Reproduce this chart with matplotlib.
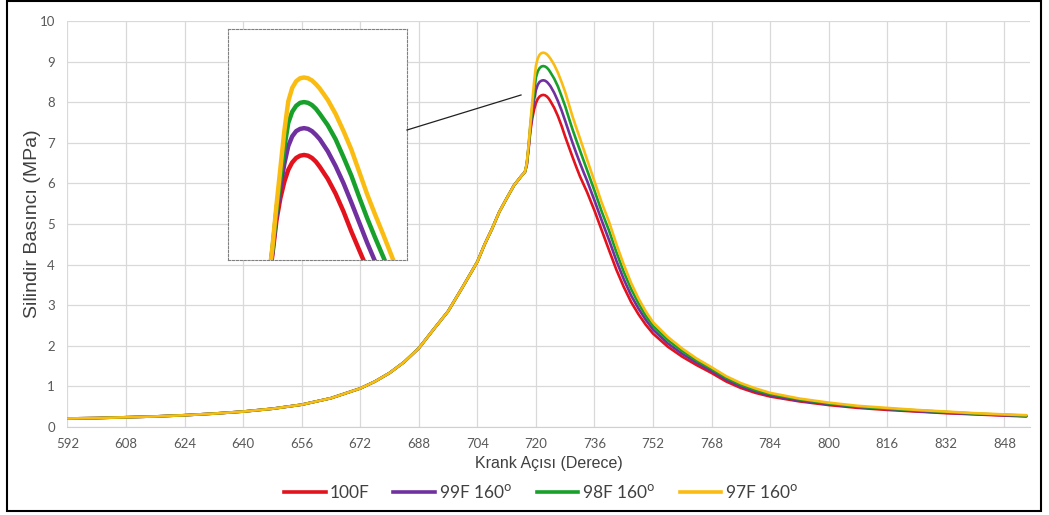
import numpy as np
import matplotlib
matplotlib.use("Agg")
import matplotlib.pyplot as plt
from matplotlib.patches import Rectangle
from matplotlib.lines import Line2D

# crank angle (deg)
angle = [592, 600, 608, 616, 624, 632, 640, 648, 656, 664, 672, 676, 680, 684,
         688, 692, 696, 700, 704, 706, 708, 710, 712, 714, 716, 717,
         717.5, 718, 718.5, 719, 719.5, 720, 720.5, 721, 721.5, 722, 722.5, 723,
         723.5, 724, 725, 726, 727, 728, 729, 730, 731, 732, 733, 734,
         736, 738, 740, 742, 744, 746, 748, 750, 752, 756, 760, 764, 768, 772,
         776, 780, 784, 792, 800, 808, 816, 824, 832, 840, 848, 854]

# compression part, identical for all fuels (592..717)
p_common = [0.21, 0.22, 0.24, 0.26, 0.29, 0.33, 0.38, 0.45, 0.55, 0.71, 0.95, 1.12,
            1.33, 1.60, 1.94, 2.40, 2.85, 3.45, 4.07, 4.50, 4.88, 5.30, 5.63, 5.95,
            6.18, 6.28]

# combustion / expansion part (717.5..854), MPa
p_100F = [6.45, 6.85, 7.30, 7.60, 7.82, 7.98, 8.08, 8.14, 8.17, 8.18, 8.17, 8.14,
          8.09, 8.02, 7.86, 7.66, 7.42, 7.15, 6.90, 6.65, 6.41, 6.18, 5.98, 5.78,
          5.33, 4.84, 4.35, 3.87, 3.45, 3.08, 2.78, 2.52, 2.30, 1.98, 1.73, 1.52,
          1.33, 1.12, 0.96, 0.84, 0.75, 0.63, 0.54, 0.47, 0.42, 0.38, 0.34, 0.31,
          0.28, 0.26]
p_99F = [6.47, 6.89, 7.37, 7.74, 8.06, 8.30, 8.43, 8.50, 8.53, 8.54, 8.53, 8.50,
         8.45, 8.39, 8.23, 8.03, 7.80, 7.54, 7.27, 7.00, 6.75, 6.51, 6.28, 6.06,
         5.58, 5.08, 4.60, 4.09, 3.64, 3.24, 2.92, 2.64, 2.40, 2.06, 1.80, 1.58,
         1.38, 1.17, 1.00, 0.88, 0.78, 0.65, 0.56, 0.49, 0.44, 0.39, 0.35, 0.32,
         0.29, 0.27]
p_98F = [6.48, 6.92, 7.44, 7.87, 8.28, 8.61, 8.76, 8.84, 8.88, 8.89, 8.88, 8.85,
         8.80, 8.73, 8.58, 8.39, 8.15, 7.90, 7.61, 7.33, 7.07, 6.82, 6.57, 6.32,
         5.82, 5.30, 4.83, 4.30, 3.82, 3.40, 3.05, 2.74, 2.49, 2.14, 1.87, 1.63,
         1.43, 1.21, 1.04, 0.91, 0.81, 0.68, 0.58, 0.50, 0.45, 0.41, 0.37, 0.33,
         0.30, 0.28]
p_97F = [6.50, 6.95, 7.50, 8.00, 8.50, 8.90, 9.08, 9.17, 9.21, 9.22, 9.21, 9.18,
         9.13, 9.07, 8.92, 8.73, 8.50, 8.25, 7.95, 7.65, 7.38, 7.12, 6.85, 6.58,
         6.05, 5.52, 5.05, 4.50, 4.00, 3.55, 3.17, 2.85, 2.58, 2.22, 1.93, 1.68,
         1.47, 1.25, 1.08, 0.95, 0.84, 0.70, 0.60, 0.52, 0.47, 0.42, 0.38, 0.34,
         0.31, 0.29]

labels = ['100F', '99F 160$^{\\mathrm{o}}$', '98F 160$^{\\mathrm{o}}$', '97F 160$^{\\mathrm{o}}$']
colors = ['#e3121c', '#7030a0', '#17a02a', '#fbbc12']
series = [p_100F, p_99F, p_98F, p_97F]

xticks = np.arange(592, 849, 16)
yticks = np.arange(0, 11, 1)

#--------------------------------------------------
if __name__ == "__main__":

    fig = plt.figure(figsize=(10.49, 5.15), dpi=100)
    ax = fig.add_axes([0.0643, 0.1709, 0.9176, 0.7883])

    for s, c in zip(series, colors):
        ax.plot(angle, p_common + s, color=c, lw=1.9, solid_capstyle='round',
                solid_joinstyle='round')

    ax.set_xlim(592, 855)
    ax.set_ylim(0, 10)
    ax.set_xticks(xticks)
    ax.set_yticks(yticks)
    ax.grid(True, color='#d9d9d9', lw=0.9)
    ax.set_axisbelow(True)
    for k in ['top', 'right', 'left']:
        ax.spines[k].set_visible(False)
    ax.spines['bottom'].set_color('#d0d0d0')
    ax.tick_params(length=0, labelsize=9.5, labelcolor='#595959')
    ax.tick_params(axis='x', pad=8)
    ax.tick_params(axis='y', pad=9)
    for t in ax.get_xticklabels() + ax.get_yticklabels():
        t.set_family('Lato')

    ax.set_xlabel('Krank Açısı (Derece)', fontsize=11.5, family='Liberation Sans',
                  color='#404040', labelpad=4)
    ax.set_ylabel('Silindir Basıncı (MPa)', fontsize=14, family='Liberation Sans',
                  color='#404040', labelpad=-1)

    # zoomed view of the peak
    axin = fig.add_axes([0.2176, 0.4951, 0.1701, 0.4485])
    for s, c in zip(series, colors):
        axin.plot(angle, p_common + s, color=c, lw=3.2, solid_joinstyle='round')
    axin.set_xlim(712.4, 735.0)
    axin.set_ylim(6.77, 9.87)
    axin.set_xticks([])
    axin.set_yticks([])
    for k in axin.spines:
        axin.spines[k].set_linestyle((0, (2, 1.5)))
        axin.spines[k].set_color('#808080')
        axin.spines[k].set_linewidth(0.8)

    fig.add_artist(Line2D([407/1049, 521/1049], [1-130/515, 1-95/515],
                          color='#202020', lw=0.9))

    handles = [Line2D([], [], color=c, lw=2.6) for c in colors]
    leg = fig.legend(handles, labels, loc='center', bbox_to_anchor=(0.516, 0.045),
                     ncol=4, frameon=False, handlelength=2.4, handletextpad=0.2,
                     columnspacing=1.4, prop={'family': 'Lato', 'size': 12.5})
    for t in leg.get_texts():
        t.set_color('#404040')

    # outer frame
    fig.add_artist(Rectangle((7/1049, 4/515), 1034/1049, 510/515,
                             transform=fig.transFigure, fill=False,
                             edgecolor='black', lw=1.5))

    plt.savefig('out.png', dpi=100)
